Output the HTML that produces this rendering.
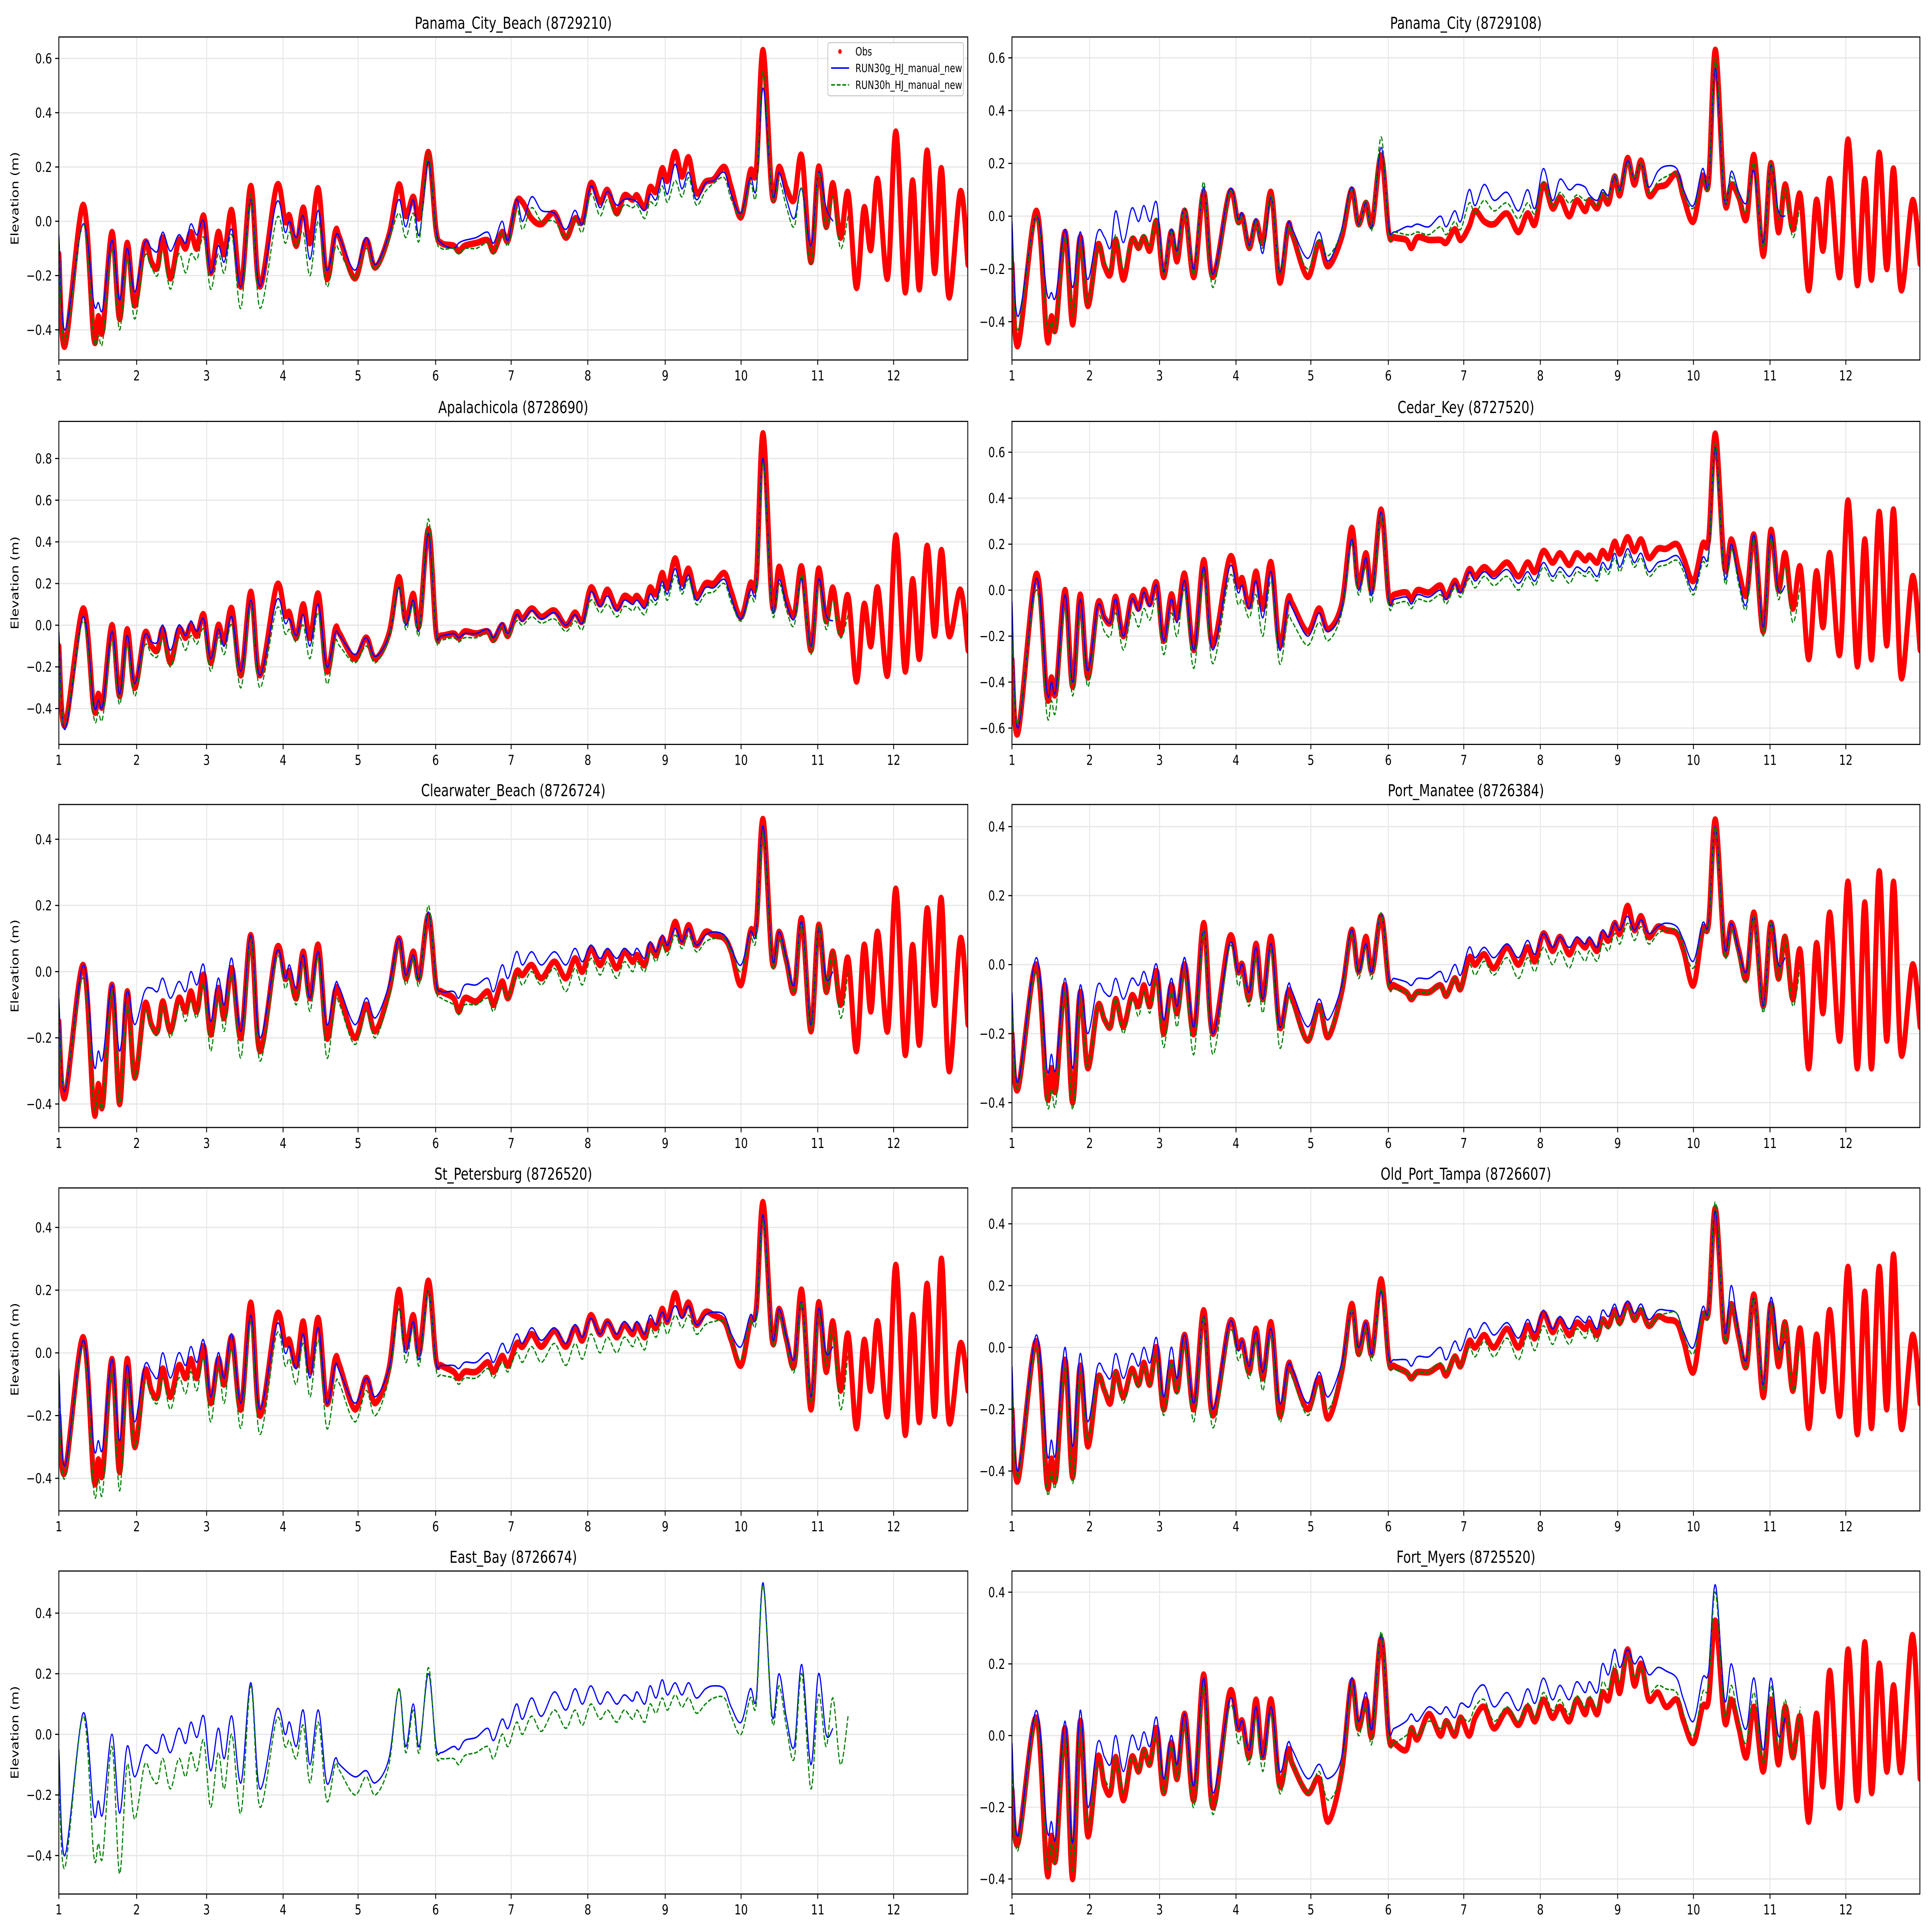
<!DOCTYPE html>
<html><head><meta charset="utf-8"><style>
html,body{margin:0;padding:0;background:#fff;overflow:hidden;width:100vw;height:100vh;}
svg{display:block;width:100vw;height:100vh;font-family:"DejaVu Sans","Liberation Sans",sans-serif;}
</style></head>
<body>
<svg id="fig" xmlns="http://www.w3.org/2000/svg" viewBox="0 0 7650 5850" preserveAspectRatio="none"></svg>
<script>
// Shared sample times (days) at the tidal peaks/troughs
const T = [1.0,1.08,1.32,1.46,1.52,1.58,1.70,1.80,1.90,
2.0,2.13,2.22,2.30,2.37,2.47,2.58,2.67,2.74,2.82,2.91,
3.0,3.10,3.18,3.28,3.40,3.53,3.65,3.87,3.98,
4.04,4.13,4.22,4.31,4.42,4.53,4.64,4.70,4.90,
5.05,5.17,5.35,5.48,5.57,5.67,5.75,5.87,5.97,
6.04,6.2,6.27,6.35,6.5,6.65,6.73,6.84,6.92,
7.03,7.11,7.23,7.36,7.53,7.68,7.8,7.9,
8.01,8.13,8.23,8.35,8.45,8.56,8.62,8.72,8.79,8.87,8.95,
9.02,9.12,9.21,9.30,9.4,9.52,9.63,9.77,9.86,9.99,
10.11,10.19,10.28,10.40,10.49,10.59,10.69,10.79,10.91,
11.01,11.11,11.2,11.30,11.40,11.51,11.61,11.70,11.79,11.92,
12.03,12.15,12.25,12.34,12.44,12.54,12.63,12.73,12.88,12.98];

const xTickValues = [1,2.025,2.947,3.955,4.943,5.965,6.96,7.97,8.99,9.99,11.0,12.0];
const xTickLabels = ["1","2","3","4","5","6","7","8","9","10","11","12"];

// Panel 1: Panama_City_Beach
const obs1 = [-0.12,-0.46,0.06,-0.43,-0.35,-0.40,-0.04,-0.36,-0.08,
-0.31,-0.08,-0.15,-0.17,-0.06,-0.21,-0.07,-0.10,-0.04,-0.10,0.02,
-0.19,-0.04,-0.12,0.04,-0.24,0.13,-0.24,0.13,0.0,
0.02,-0.09,0.05,-0.08,0.12,-0.21,-0.04,-0.06,-0.21,
-0.07,-0.17,-0.05,0.135,0.02,0.09,0.015,0.255,-0.03,
-0.08,-0.09,-0.11,-0.09,-0.08,-0.07,-0.11,-0.04,-0.07,
0.07,0.07,0.01,-0.01,0.03,-0.06,0.01,0.0,
0.14,0.07,0.115,0.03,0.095,0.08,0.095,0.05,0.125,0.11,0.195,
0.15,0.255,0.165,0.235,0.105,0.145,0.155,0.2,0.125,0.015,
0.185,0.19,0.63,0.095,0.2,0.12,0.08,0.24,-0.15,
0.2,-0.02,0.14,-0.06,0.105,-0.245,0.05,-0.105,0.155,-0.21,
0.33,-0.26,0.15,-0.25,0.26,-0.19,0.195,-0.28,0.11,-0.16];
const g1 = [-0.05,-0.40,-0.01,-0.30,-0.30,-0.32,-0.07,-0.29,-0.10,
-0.26,-0.08,-0.10,-0.11,-0.04,-0.11,-0.05,-0.08,-0.01,-0.05,0.0,
-0.19,-0.09,-0.15,-0.03,-0.24,0.08,-0.24,0.07,-0.04,
0.0,-0.06,0.02,-0.14,0.04,-0.18,-0.06,-0.06,-0.18,
-0.06,-0.16,-0.05,0.08,-0.02,0.08,-0.05,0.22,-0.03,
-0.08,-0.10,-0.08,-0.07,-0.06,-0.04,-0.08,0.0,-0.07,
0.08,0.0,0.09,0.04,0.03,-0.03,0.04,-0.01,
0.13,0.05,0.11,0.06,0.08,0.08,0.07,0.04,0.10,0.08,0.16,
0.10,0.21,0.12,0.18,0.08,0.14,0.15,0.18,0.10,0.03,
0.16,0.12,0.49,0.10,0.18,0.08,0.01,0.12,-0.09,
0.18,0.05,0.0];
const h1 = [-0.10,-0.45,-0.01,-0.43,-0.42,-0.44,-0.11,-0.40,-0.14,
-0.36,-0.13,-0.17,-0.20,-0.11,-0.25,-0.12,-0.19,-0.12,-0.14,-0.06,
-0.25,-0.12,-0.19,-0.05,-0.32,0.10,-0.32,0.01,-0.08,
-0.04,-0.09,-0.04,-0.20,0.0,-0.24,-0.10,-0.11,-0.21,
-0.10,-0.18,-0.07,0.03,-0.06,0.03,-0.07,0.25,-0.05,
-0.10,-0.10,-0.12,-0.10,-0.10,-0.08,-0.12,-0.04,-0.09,
0.05,-0.03,0.05,0.0,0.0,-0.06,0.01,-0.04,
0.10,0.02,0.08,0.02,0.06,0.05,0.06,0.01,0.07,0.06,0.13,
0.07,0.15,0.09,0.16,0.06,0.11,0.14,0.16,0.08,0.02,
0.14,0.10,0.55,0.09,0.15,0.05,-0.02,0.12,-0.16,
0.18,-0.03,0.09,-0.10,0.02];

// Panel 2: Panama_City
const obs2 = [-0.18,-0.49,0.02,-0.46,-0.38,-0.42,-0.06,-0.41,-0.08,
-0.34,-0.11,-0.19,-0.22,-0.09,-0.24,-0.09,-0.12,-0.08,-0.13,-0.02,
-0.23,-0.06,-0.17,0.02,-0.23,0.09,-0.23,0.09,-0.02,
0.0,-0.12,-0.02,-0.10,0.09,-0.25,-0.04,-0.07,-0.23,
-0.10,-0.19,-0.08,0.10,-0.03,0.05,-0.03,0.23,-0.06,
-0.08,-0.09,-0.12,-0.08,-0.09,-0.09,-0.10,-0.05,-0.09,
-0.04,0.02,-0.02,-0.03,0.01,-0.06,0.01,-0.03,
0.12,0.03,0.07,0.0,0.06,0.02,0.06,0.03,0.08,0.05,0.15,
0.08,0.22,0.12,0.21,0.08,0.11,0.12,0.16,0.07,-0.02,
0.15,0.13,0.63,0.06,0.12,0.07,-0.01,0.23,-0.15,
0.20,-0.06,0.12,-0.05,0.08,-0.28,0.06,-0.13,0.14,-0.23,
0.29,-0.26,0.14,-0.24,0.24,-0.20,0.18,-0.28,0.06,-0.18];
const g2 = [-0.02,-0.38,0.0,-0.29,-0.29,-0.30,-0.05,-0.27,-0.06,
-0.24,-0.06,-0.08,-0.12,0.02,-0.10,0.03,-0.02,0.04,-0.02,0.05,
-0.21,-0.05,-0.13,0.03,-0.20,0.11,-0.22,0.10,-0.01,
0.01,-0.11,-0.01,-0.14,0.07,-0.21,-0.03,-0.05,-0.16,
-0.06,-0.17,-0.05,0.11,-0.03,0.05,-0.04,0.26,-0.04,
-0.06,-0.04,-0.04,-0.03,-0.04,0.0,-0.04,0.02,-0.02,
0.10,0.04,0.12,0.06,0.09,0.02,0.10,0.03,
0.18,0.06,0.14,0.10,0.12,0.11,0.08,0.06,0.10,0.08,0.15,
0.10,0.21,0.14,0.20,0.11,0.17,0.19,0.18,0.10,0.04,
0.18,0.12,0.56,0.06,0.17,0.09,0.05,0.17,-0.10,
0.19,0.02,0.0];
const h2 = [-0.12,-0.43,0.0,-0.41,-0.40,-0.42,-0.08,-0.38,-0.10,
-0.33,-0.12,-0.17,-0.20,-0.07,-0.20,-0.08,-0.12,-0.07,-0.11,-0.01,
-0.22,-0.06,-0.15,0.03,-0.22,0.13,-0.27,0.09,-0.03,
0.0,-0.12,-0.02,-0.12,0.08,-0.22,-0.05,-0.07,-0.20,
-0.09,-0.15,-0.06,0.10,-0.04,0.06,-0.05,0.30,-0.07,
-0.06,-0.07,-0.07,-0.06,-0.07,-0.04,-0.07,-0.02,-0.05,
0.05,0.01,0.06,0.02,0.05,-0.01,0.05,0.01,
0.13,0.04,0.09,0.05,0.08,0.06,0.07,0.04,0.09,0.07,0.16,
0.09,0.20,0.14,0.20,0.09,0.13,0.15,0.16,0.08,0.03,
0.14,0.12,0.60,0.07,0.15,0.07,0.02,0.20,-0.12,
0.20,-0.01,0.11,-0.08,0.05];

// Panel 3: Apalachicola
const obs3 = [-0.10,-0.48,0.08,-0.40,-0.33,-0.38,0.0,-0.34,-0.02,
-0.30,-0.04,-0.10,-0.12,-0.02,-0.18,-0.02,-0.06,0.0,-0.05,0.05,
-0.18,0.0,-0.08,0.08,-0.24,0.16,-0.24,0.19,0.05,
0.06,-0.06,0.10,-0.06,0.15,-0.22,-0.02,-0.04,-0.16,
-0.06,-0.16,-0.04,0.23,0.02,0.15,0.0,0.46,-0.03,
-0.05,-0.04,-0.06,-0.03,-0.04,-0.03,-0.07,0.0,-0.05,
0.06,0.03,0.08,0.04,0.07,0.0,0.06,0.02,
0.18,0.10,0.17,0.08,0.14,0.12,0.14,0.10,0.18,0.15,0.25,
0.18,0.32,0.20,0.27,0.14,0.20,0.20,0.25,0.16,0.04,
0.20,0.22,0.92,0.10,0.28,0.12,0.05,0.28,-0.12,
0.27,0.02,0.18,-0.04,0.14,-0.27,0.10,-0.10,0.18,-0.24,
0.43,-0.22,0.22,-0.16,0.38,-0.05,0.36,-0.05,0.17,-0.12];
const g3 = [-0.03,-0.50,0.04,-0.38,-0.36,-0.38,-0.03,-0.33,-0.05,
-0.28,-0.05,-0.08,-0.08,0.0,-0.12,0.0,-0.05,0.02,-0.03,0.03,
-0.16,-0.02,-0.10,0.04,-0.22,0.12,-0.24,0.12,0.01,
0.03,-0.05,0.05,-0.10,0.10,-0.20,-0.04,-0.05,-0.14,
-0.06,-0.15,-0.05,0.18,0.0,0.12,-0.02,0.44,-0.03,
-0.05,-0.04,-0.06,-0.04,-0.04,-0.02,-0.06,0.01,-0.04,
0.05,0.02,0.07,0.03,0.06,0.0,0.05,0.01,
0.16,0.09,0.14,0.07,0.12,0.10,0.12,0.08,0.15,0.12,0.21,
0.15,0.27,0.17,0.24,0.12,0.18,0.18,0.22,0.13,0.03,
0.17,0.18,0.80,0.08,0.22,0.10,0.03,0.22,-0.10,
0.22,0.05,0.02];
const h3 = [-0.10,-0.48,0.02,-0.44,-0.42,-0.44,-0.08,-0.38,-0.10,
-0.34,-0.10,-0.14,-0.15,-0.06,-0.20,-0.06,-0.12,-0.05,-0.09,-0.02,
-0.22,-0.06,-0.14,0.0,-0.30,0.10,-0.30,0.08,-0.04,
-0.02,-0.08,0.0,-0.16,0.06,-0.28,-0.08,-0.10,-0.18,
-0.10,-0.18,-0.06,0.20,-0.02,0.10,-0.04,0.51,-0.05,
-0.07,-0.06,-0.08,-0.06,-0.06,-0.04,-0.08,-0.01,-0.06,
0.02,0.0,0.04,0.01,0.03,-0.03,0.02,-0.02,
0.12,0.06,0.10,0.04,0.09,0.07,0.09,0.05,0.12,0.10,0.19,
0.12,0.24,0.15,0.22,0.10,0.15,0.16,0.20,0.11,0.02,
0.14,0.16,0.78,0.06,0.20,0.07,0.0,0.24,-0.14,
0.20,-0.02,0.12,-0.06,0.05];

// Panel 4: Cedar_Key
const obs4 = [-0.30,-0.62,0.07,-0.46,-0.38,-0.44,0.0,-0.42,-0.02,
-0.38,-0.06,-0.12,-0.14,-0.03,-0.20,-0.03,-0.08,0.0,-0.06,0.03,
-0.22,-0.02,-0.12,0.07,-0.26,0.13,-0.24,0.14,0.02,
0.05,-0.07,0.08,-0.08,0.12,-0.24,-0.04,-0.06,-0.18,
-0.08,-0.17,-0.06,0.27,0.02,0.16,0.0,0.35,-0.03,
-0.02,-0.01,-0.04,0.0,-0.01,0.02,-0.03,0.04,0.0,
0.09,0.06,0.10,0.07,0.12,0.06,0.12,0.08,
0.17,0.12,0.16,0.11,0.16,0.13,0.15,0.12,0.17,0.14,0.21,
0.16,0.23,0.17,0.22,0.14,0.18,0.18,0.20,0.14,0.04,
0.20,0.22,0.68,0.10,0.22,0.08,-0.02,0.24,-0.18,
0.26,0.0,0.16,-0.08,0.10,-0.30,0.08,-0.16,0.16,-0.28,
0.39,-0.33,0.22,-0.30,0.34,-0.24,0.35,-0.38,0.06,-0.26];
const g4 = [-0.05,-0.60,0.05,-0.44,-0.40,-0.43,-0.02,-0.40,-0.04,
-0.35,-0.07,-0.12,-0.14,-0.04,-0.20,-0.04,-0.09,-0.01,-0.07,0.02,
-0.22,-0.04,-0.14,0.04,-0.26,0.10,-0.26,0.10,-0.01,
0.02,-0.08,0.04,-0.12,0.08,-0.26,-0.06,-0.08,-0.20,
-0.10,-0.18,-0.08,0.22,0.0,0.14,-0.02,0.34,-0.04,
-0.04,-0.03,-0.06,-0.02,-0.03,0.0,-0.04,0.03,-0.01,
0.08,0.04,0.08,0.05,0.09,0.03,0.08,0.04,
0.12,0.06,0.10,0.06,0.10,0.08,0.10,0.06,0.12,0.09,0.16,
0.10,0.18,0.12,0.16,0.08,0.12,0.13,0.15,0.10,0.0,
0.14,0.16,0.62,0.06,0.20,0.04,-0.06,0.24,-0.16,
0.24,0.0,0.02];
const h4 = [-0.18,-0.58,0.0,-0.54,-0.48,-0.52,-0.08,-0.46,-0.10,
-0.42,-0.12,-0.18,-0.20,-0.10,-0.26,-0.10,-0.16,-0.08,-0.13,-0.04,
-0.28,-0.10,-0.20,0.0,-0.34,0.08,-0.32,0.06,-0.06,
-0.04,-0.12,-0.02,-0.20,0.04,-0.32,-0.12,-0.14,-0.24,
-0.14,-0.22,-0.10,0.20,-0.02,0.10,-0.05,0.33,-0.06,
-0.06,-0.05,-0.08,-0.04,-0.05,-0.02,-0.06,0.01,-0.03,
0.05,0.01,0.06,0.02,0.06,0.0,0.06,0.02,
0.10,0.04,0.08,0.03,0.08,0.06,0.08,0.04,0.10,0.07,0.14,
0.08,0.16,0.10,0.14,0.06,0.10,0.11,0.13,0.08,-0.02,
0.12,0.14,0.64,0.04,0.18,0.02,-0.08,0.22,-0.20,
0.22,-0.04,0.10,-0.14,0.02];

// Panel 5: Clearwater_Beach
const obs5 = [-0.15,-0.38,0.02,-0.42,-0.34,-0.40,-0.04,-0.40,-0.06,
-0.32,-0.10,-0.16,-0.18,-0.09,-0.18,-0.08,-0.12,-0.06,-0.12,-0.01,
-0.19,-0.05,-0.14,0.01,-0.20,0.11,-0.24,0.07,-0.02,
0.0,-0.08,0.06,-0.08,0.08,-0.20,-0.06,-0.07,-0.20,
-0.10,-0.18,-0.06,0.10,-0.02,0.06,-0.02,0.17,-0.04,
-0.06,-0.08,-0.12,-0.08,-0.09,-0.06,-0.10,-0.03,-0.08,
0.0,-0.01,0.02,-0.02,0.03,-0.02,0.04,0.0,
0.07,0.02,0.06,0.01,0.06,0.03,0.05,0.02,0.08,0.05,0.10,
0.07,0.15,0.09,0.14,0.08,0.12,0.11,0.10,0.06,-0.04,
0.12,0.14,0.46,0.03,0.12,0.03,-0.06,0.16,-0.18,
0.14,-0.06,0.06,-0.10,0.04,-0.24,0.08,-0.12,0.12,-0.18,
0.25,-0.25,0.08,-0.22,0.19,-0.10,0.22,-0.30,0.10,-0.16];
const g5 = [-0.08,-0.36,0.02,-0.28,-0.24,-0.26,-0.04,-0.24,-0.06,
-0.16,-0.06,-0.05,-0.06,-0.02,-0.08,-0.03,-0.06,0.0,-0.04,0.02,
-0.15,-0.02,-0.10,0.04,-0.18,0.11,-0.20,0.06,-0.02,
0.02,-0.05,0.05,-0.08,0.06,-0.16,-0.04,-0.05,-0.16,
-0.08,-0.14,-0.04,0.10,-0.01,0.05,-0.02,0.18,-0.03,
-0.06,-0.06,-0.08,-0.04,-0.04,-0.02,-0.06,0.02,-0.02,
0.06,0.02,0.06,0.02,0.06,0.02,0.07,0.03,
0.08,0.04,0.07,0.04,0.07,0.05,0.07,0.04,0.09,0.06,0.11,
0.08,0.13,0.09,0.13,0.08,0.11,0.12,0.11,0.07,0.02,
0.12,0.12,0.44,0.04,0.12,0.04,-0.04,0.15,-0.16,
0.13,-0.02,0.0];
const h5 = [-0.14,-0.35,-0.02,-0.40,-0.36,-0.40,-0.06,-0.40,-0.10,
-0.32,-0.12,-0.17,-0.19,-0.10,-0.20,-0.10,-0.15,-0.09,-0.14,-0.04,
-0.24,-0.07,-0.18,-0.01,-0.26,0.10,-0.27,0.04,-0.05,
-0.02,-0.10,0.02,-0.12,0.04,-0.26,-0.09,-0.10,-0.22,
-0.12,-0.20,-0.08,0.08,-0.04,0.04,-0.04,0.20,-0.05,
-0.08,-0.10,-0.13,-0.10,-0.10,-0.08,-0.12,-0.05,-0.08,
-0.01,-0.04,0.0,-0.04,0.01,-0.06,0.01,-0.04,
0.04,-0.01,0.03,-0.02,0.03,0.0,0.03,0.0,0.06,0.03,0.08,
0.05,0.11,0.07,0.11,0.06,0.09,0.10,0.10,0.06,0.0,
0.10,0.10,0.42,0.02,0.10,0.02,-0.06,0.14,-0.18,
0.14,-0.06,0.06,-0.14,0.0];

// Panel 6: Port_Manatee
const obs6 = [-0.20,-0.36,0.0,-0.38,-0.30,-0.36,-0.06,-0.40,-0.08,
-0.30,-0.12,-0.16,-0.18,-0.10,-0.18,-0.09,-0.12,-0.06,-0.12,-0.02,
-0.20,-0.06,-0.14,0.0,-0.20,0.12,-0.20,0.08,-0.02,
0.0,-0.10,0.06,-0.10,0.08,-0.18,-0.08,-0.10,-0.22,
-0.12,-0.21,-0.08,0.10,-0.02,0.08,-0.02,0.14,-0.05,
-0.06,-0.08,-0.10,-0.08,-0.08,-0.06,-0.09,-0.04,-0.07,
0.02,0.0,0.03,-0.01,0.05,0.0,0.05,0.01,
0.09,0.04,0.08,0.03,0.07,0.05,0.07,0.04,0.09,0.07,0.12,
0.09,0.17,0.10,0.14,0.08,0.11,0.10,0.09,0.04,-0.06,
0.10,0.12,0.42,0.04,0.12,0.04,-0.04,0.15,-0.12,
0.12,-0.04,0.08,-0.10,0.04,-0.30,0.06,-0.14,0.15,-0.22,
0.24,-0.30,0.18,-0.30,0.27,-0.22,0.24,-0.26,0.0,-0.18];
const g6 = [-0.08,-0.34,0.02,-0.30,-0.26,-0.30,-0.04,-0.30,-0.06,
-0.20,-0.06,-0.08,-0.09,-0.04,-0.10,-0.04,-0.06,-0.02,-0.06,0.0,
-0.16,-0.04,-0.12,0.02,-0.18,0.10,-0.20,0.06,-0.02,
0.0,-0.08,0.05,-0.10,0.06,-0.18,-0.06,-0.08,-0.18,
-0.10,-0.16,-0.06,0.10,-0.02,0.06,-0.02,0.15,-0.04,
-0.04,-0.05,-0.06,-0.04,-0.04,-0.02,-0.05,0.0,-0.03,
0.05,0.02,0.05,0.02,0.06,0.02,0.07,0.03,
0.09,0.05,0.08,0.05,0.08,0.06,0.08,0.05,0.10,0.08,0.12,
0.10,0.14,0.10,0.13,0.09,0.11,0.12,0.11,0.07,0.01,
0.12,0.12,0.40,0.05,0.12,0.04,-0.02,0.14,-0.12,
0.12,0.0,0.02];
const h6 = [-0.12,-0.36,-0.02,-0.40,-0.36,-0.40,-0.08,-0.42,-0.10,
-0.30,-0.12,-0.16,-0.18,-0.10,-0.20,-0.10,-0.15,-0.08,-0.14,-0.04,
-0.24,-0.08,-0.18,-0.02,-0.26,0.10,-0.26,0.05,-0.06,
-0.03,-0.12,0.02,-0.14,0.04,-0.24,-0.10,-0.12,-0.22,
-0.12,-0.20,-0.08,0.09,-0.04,0.05,-0.04,0.15,-0.06,
-0.07,-0.08,-0.10,-0.08,-0.08,-0.06,-0.09,-0.04,-0.07,
0.0,-0.03,0.01,-0.03,0.02,-0.04,0.02,-0.02,
0.05,0.0,0.04,-0.01,0.04,0.01,0.04,0.01,0.06,0.04,0.09,
0.06,0.12,0.07,0.11,0.06,0.09,0.10,0.10,0.05,-0.01,
0.10,0.11,0.40,0.03,0.10,0.02,-0.05,0.14,-0.14,
0.12,-0.04,0.08,-0.12,0.0];

// Panel 7: St_Petersburg
const obs7 = [-0.20,-0.38,0.05,-0.40,-0.34,-0.38,-0.02,-0.38,-0.02,
-0.30,-0.06,-0.12,-0.14,-0.05,-0.14,-0.04,-0.08,-0.02,-0.08,0.02,
-0.16,-0.02,-0.10,0.05,-0.18,0.16,-0.20,0.12,0.03,
0.04,-0.04,0.10,-0.06,0.11,-0.16,-0.02,-0.04,-0.18,
-0.08,-0.16,-0.05,0.20,0.02,0.12,0.0,0.23,-0.02,
-0.04,-0.06,-0.08,-0.06,-0.06,-0.03,-0.06,-0.01,-0.04,
0.03,0.02,0.06,0.02,0.07,0.02,0.08,0.04,
0.12,0.06,0.10,0.05,0.09,0.06,0.09,0.05,0.10,0.08,0.14,
0.10,0.19,0.12,0.16,0.09,0.13,0.12,0.10,0.04,-0.04,
0.10,0.14,0.48,0.04,0.14,0.04,-0.04,0.20,-0.18,
0.16,-0.06,0.10,-0.12,0.06,-0.24,0.04,-0.12,0.10,-0.20,
0.28,-0.26,0.12,-0.22,0.22,-0.20,0.30,-0.22,0.03,-0.12];
const g7 = [-0.05,-0.36,0.04,-0.30,-0.28,-0.30,-0.02,-0.28,-0.04,
-0.22,-0.04,-0.06,-0.08,0.0,-0.08,0.0,-0.04,0.02,-0.03,0.04,
-0.14,0.0,-0.08,0.06,-0.16,0.12,-0.18,0.09,0.0,
0.02,-0.05,0.06,-0.08,0.08,-0.16,-0.04,-0.06,-0.16,
-0.08,-0.14,-0.05,0.14,0.0,0.10,-0.02,0.20,-0.03,
-0.04,-0.04,-0.05,-0.03,-0.03,0.0,-0.03,0.03,0.0,
0.06,0.03,0.08,0.04,0.08,0.03,0.09,0.05,
0.11,0.06,0.10,0.06,0.10,0.07,0.10,0.06,0.12,0.09,0.13,
0.10,0.15,0.11,0.15,0.09,0.12,0.13,0.12,0.06,0.02,
0.12,0.12,0.44,0.05,0.14,0.05,-0.02,0.16,-0.14,
0.14,0.0,0.02];
const h7 = [-0.16,-0.40,0.02,-0.44,-0.40,-0.44,-0.06,-0.44,-0.08,
-0.30,-0.10,-0.14,-0.16,-0.08,-0.18,-0.08,-0.13,-0.06,-0.12,-0.02,
-0.22,-0.05,-0.16,0.01,-0.24,0.10,-0.26,0.06,-0.04,
-0.02,-0.10,0.03,-0.14,0.04,-0.24,-0.10,-0.10,-0.22,
-0.12,-0.20,-0.08,0.14,-0.03,0.08,-0.04,0.20,-0.05,
-0.07,-0.08,-0.10,-0.08,-0.08,-0.05,-0.08,-0.03,-0.06,
0.0,-0.03,0.02,-0.03,0.03,-0.04,0.03,-0.02,
0.06,0.0,0.05,0.0,0.05,0.02,0.05,0.01,0.08,0.05,0.10,
0.06,0.12,0.08,0.12,0.06,0.09,0.10,0.10,0.04,-0.02,
0.10,0.10,0.42,0.03,0.12,0.03,-0.06,0.16,-0.16,
0.12,-0.04,0.08,-0.18,0.0];

// Panel 8: Old_Port_Tampa
const obs8 = [-0.20,-0.43,0.02,-0.44,-0.36,-0.42,-0.04,-0.42,-0.06,
-0.32,-0.10,-0.14,-0.18,-0.08,-0.16,-0.07,-0.12,-0.05,-0.12,0.0,
-0.20,-0.05,-0.14,0.04,-0.20,0.12,-0.22,0.08,0.0,
0.02,-0.08,0.06,-0.10,0.08,-0.22,-0.06,-0.08,-0.20,
-0.10,-0.23,-0.08,0.14,-0.02,0.08,-0.02,0.22,-0.04,
-0.06,-0.08,-0.10,-0.08,-0.08,-0.06,-0.09,-0.03,-0.06,
0.02,0.0,0.04,0.0,0.06,0.0,0.07,0.03,
0.11,0.05,0.09,0.04,0.08,0.06,0.08,0.04,0.09,0.07,0.12,
0.08,0.14,0.09,0.12,0.07,0.10,0.09,0.08,0.02,-0.08,
0.10,0.12,0.45,0.03,0.14,0.03,-0.06,0.17,-0.16,
0.14,-0.06,0.08,-0.14,0.06,-0.26,0.04,-0.14,0.12,-0.22,
0.26,-0.28,0.18,-0.26,0.26,-0.20,0.30,-0.26,0.04,-0.18];
const g8 = [-0.06,-0.40,0.04,-0.34,-0.30,-0.34,0.0,-0.32,-0.02,
-0.24,-0.06,-0.08,-0.10,-0.02,-0.10,-0.02,-0.06,0.0,-0.05,0.03,
-0.16,0.0,-0.10,0.04,-0.18,0.10,-0.20,0.08,-0.01,
0.02,-0.06,0.05,-0.08,0.06,-0.18,-0.06,-0.07,-0.18,
-0.08,-0.16,-0.05,0.12,0.0,0.08,-0.02,0.18,-0.03,
-0.04,-0.04,-0.06,-0.03,-0.03,0.0,-0.04,0.02,-0.01,
0.06,0.03,0.08,0.04,0.08,0.03,0.09,0.05,
0.12,0.06,0.10,0.06,0.10,0.08,0.10,0.06,0.12,0.10,0.14,
0.10,0.15,0.11,0.14,0.09,0.12,0.12,0.11,0.05,0.0,
0.13,0.12,0.44,0.05,0.20,0.04,-0.04,0.16,-0.12,
0.16,0.0,0.02];
const h8 = [-0.14,-0.42,0.0,-0.46,-0.40,-0.44,-0.06,-0.44,-0.08,
-0.30,-0.10,-0.14,-0.16,-0.08,-0.18,-0.08,-0.13,-0.06,-0.12,-0.02,
-0.22,-0.05,-0.15,0.02,-0.24,0.10,-0.26,0.05,-0.04,
-0.02,-0.10,0.02,-0.14,0.04,-0.24,-0.09,-0.10,-0.22,
-0.12,-0.20,-0.08,0.12,-0.03,0.06,-0.04,0.19,-0.05,
-0.07,-0.08,-0.10,-0.08,-0.08,-0.05,-0.08,-0.03,-0.06,
0.0,-0.03,0.02,-0.03,0.03,-0.04,0.04,-0.01,
0.07,0.01,0.06,0.01,0.06,0.03,0.06,0.02,0.09,0.06,0.11,
0.07,0.13,0.09,0.13,0.07,0.10,0.11,0.11,0.04,-0.02,
0.11,0.11,0.47,0.03,0.14,0.03,-0.06,0.16,-0.14,
0.14,-0.04,0.08,-0.14,0.02];

// Panel 9: East_Bay (no observations)
const obs9 = [];
const g9 = [-0.05,-0.40,0.07,-0.26,-0.22,-0.26,0.0,-0.26,-0.04,
-0.14,-0.04,-0.05,-0.06,0.0,-0.06,0.02,-0.03,0.04,-0.01,0.06,
-0.12,0.02,-0.08,0.06,-0.16,0.17,-0.18,0.08,0.0,
0.04,-0.04,0.08,-0.10,0.08,-0.16,-0.08,-0.10,-0.14,
-0.12,-0.16,-0.08,0.15,-0.04,0.10,-0.04,0.20,-0.04,
-0.06,-0.04,-0.05,-0.02,-0.01,0.02,-0.02,0.05,0.02,
0.10,0.05,0.12,0.06,0.14,0.08,0.15,0.10,
0.16,0.10,0.14,0.10,0.13,0.11,0.14,0.10,0.16,0.12,0.18,
0.13,0.17,0.13,0.17,0.12,0.15,0.16,0.15,0.09,0.04,
0.15,0.12,0.50,0.06,0.20,0.05,-0.04,0.23,-0.10,
0.20,0.0,0.02];
const h9 = [-0.14,-0.44,0.06,-0.40,-0.36,-0.40,-0.04,-0.46,-0.10,
-0.28,-0.10,-0.14,-0.16,-0.08,-0.18,-0.08,-0.14,-0.06,-0.12,-0.02,
-0.24,-0.06,-0.18,0.0,-0.26,0.16,-0.24,0.05,-0.04,
-0.02,-0.08,0.03,-0.16,0.04,-0.22,-0.10,-0.12,-0.20,
-0.14,-0.20,-0.10,0.15,-0.06,0.08,-0.06,0.22,-0.06,
-0.08,-0.08,-0.10,-0.07,-0.06,-0.04,-0.08,0.0,-0.04,
0.04,0.0,0.06,0.01,0.08,0.02,0.08,0.03,
0.10,0.05,0.08,0.04,0.08,0.05,0.08,0.04,0.10,0.07,0.12,
0.08,0.13,0.09,0.12,0.07,0.10,0.12,0.12,0.06,0.0,
0.12,0.10,0.49,0.04,0.16,0.02,-0.08,0.20,-0.18,
0.13,-0.04,0.12,-0.10,0.06];

// Panel 10: Fort_Myers
const obs10 = [-0.15,-0.30,0.05,-0.38,-0.28,-0.34,0.02,-0.40,0.04,
-0.28,-0.06,-0.14,-0.16,-0.06,-0.18,-0.06,-0.10,-0.04,-0.08,0.02,
-0.16,-0.02,-0.12,0.06,-0.18,0.17,-0.20,0.12,0.02,
0.04,-0.06,0.10,-0.06,0.10,-0.14,-0.04,-0.08,-0.16,
-0.12,-0.24,-0.10,0.15,0.02,0.10,0.0,0.27,0.0,
-0.02,-0.04,0.02,-0.01,0.06,0.0,0.04,0.0,0.05,
0.0,0.05,0.08,0.02,0.07,0.03,0.08,0.04,
0.10,0.05,0.08,0.04,0.10,0.06,0.10,0.06,0.12,0.10,0.18,
0.12,0.24,0.14,0.20,0.10,0.12,0.08,0.10,0.04,-0.02,
0.08,0.10,0.32,0.04,0.10,0.02,-0.06,0.08,-0.10,
0.10,-0.08,0.08,-0.06,0.05,-0.24,0.06,-0.14,0.18,-0.20,
0.24,-0.18,0.26,-0.16,0.20,-0.10,0.14,-0.10,0.28,-0.12];
const g10 = [-0.02,-0.28,0.07,-0.26,-0.24,-0.28,0.04,-0.30,0.07,
-0.20,-0.02,-0.06,-0.08,0.0,-0.10,0.0,-0.04,0.01,-0.03,0.05,
-0.12,0.0,-0.08,0.06,-0.14,0.16,-0.16,0.10,0.02,
0.04,-0.04,0.08,-0.06,0.08,-0.10,-0.02,-0.04,-0.12,
-0.08,-0.12,-0.06,0.16,0.04,0.12,0.02,0.28,0.02,
0.02,0.04,0.06,0.04,0.08,0.06,0.08,0.05,0.09,
0.08,0.12,0.14,0.08,0.12,0.07,0.13,0.09,
0.16,0.10,0.14,0.10,0.15,0.12,0.15,0.12,0.20,0.17,0.24,
0.19,0.24,0.20,0.22,0.17,0.19,0.18,0.16,0.10,0.04,
0.16,0.18,0.42,0.10,0.20,0.08,0.02,0.16,-0.04,
0.16,0.0,0.05];
const h10 = [-0.10,-0.32,0.05,-0.36,-0.30,-0.34,0.0,-0.38,0.02,
-0.26,-0.08,-0.12,-0.14,-0.06,-0.16,-0.06,-0.10,-0.04,-0.08,0.0,
-0.16,-0.03,-0.12,0.03,-0.20,0.14,-0.22,0.08,-0.02,
0.0,-0.08,0.05,-0.10,0.06,-0.16,-0.06,-0.08,-0.16,
-0.10,-0.18,-0.10,0.14,0.0,0.08,-0.02,0.29,-0.01,
-0.02,0.0,0.02,0.0,0.04,0.02,0.04,0.01,0.05,
0.04,0.08,0.10,0.04,0.08,0.04,0.09,0.05,
0.12,0.07,0.10,0.06,0.11,0.08,0.11,0.08,0.15,0.13,0.20,
0.15,0.22,0.16,0.19,0.12,0.14,0.13,0.12,0.06,0.0,
0.12,0.14,0.40,0.06,0.14,0.04,-0.02,0.12,-0.08,
0.14,-0.04,0.10,-0.06,0.08];

const stationTitles = ["Panama_City_Beach (8729210)","Panama_City (8729108)","Apalachicola (8728690)","Cedar_Key (8727520)","Clearwater_Beach (8726724)","Port_Manatee (8726384)","St_Petersburg (8726520)","Old_Port_Tampa (8726607)","East_Bay (8726674)","Fort_Myers (8725520)"];
const yTickSets = [[-0.4,-0.2,0,0.2,0.4,0.6],[-0.4,-0.2,0,0.2,0.4,0.6],[-0.4,-0.2,0,0.2,0.4,0.6,0.8],[-0.6,-0.4,-0.2,0,0.2,0.4,0.6],[-0.4,-0.2,0,0.2,0.4],[-0.4,-0.2,0,0.2,0.4],[-0.4,-0.2,0,0.2,0.4],[-0.4,-0.2,0,0.2,0.4],[-0.4,-0.2,0,0.2,0.4],[-0.4,-0.2,0,0.2,0.4]];
const yMins = [-0.511,-0.545,-0.572,-0.671,-0.471,-0.472,-0.504,-0.529,-0.527,-0.442];
const yMaxs = [0.679,0.679,0.978,0.734,0.505,0.464,0.526,0.516,0.539,0.459];
const obsSeries = [obs1,obs2,obs3,obs4,obs5,obs6,obs7,obs8,obs9,obs10];
const gSeries = [g1,g2,g3,g4,g5,g6,g7,g8,g9,g10];
const hSeries = [h1,h2,h3,h4,h5,h6,h7,h8,h9,h10];

const NS = "http://www.w3.org/2000/svg";
const svg = document.getElementById("fig");
const X_MIN = 1, X_MAX = 12.977;
const colLeft = [233, 4007], colWidth = [3599, 3595];
const rowTop = [112, 1276, 2436, 3597, 4757], panelH = 978;

function mk(tag, attrs, parent){
  const e = document.createElementNS(NS, tag);
  for (const k in attrs) e.setAttribute(k, attrs[k]);
  (parent || svg).appendChild(e);
  return e;
}
function fmt(v){ const s = v.toFixed(1); return s.replace("-", "\u2212"); }
function smoothPath(pts){
  if (pts.length < 2) return "";
  let d = "M" + pts[0][0].toFixed(1) + "," + pts[0][1].toFixed(1);
  for (let i = 0; i < pts.length - 1; i++){
    const p0 = pts[Math.max(0, i-1)], p1 = pts[i], p2 = pts[i+1], p3 = pts[Math.min(pts.length-1, i+2)];
    const c1x = p1[0] + (p2[0]-p0[0])/6, c1y = p1[1] + (p2[1]-p0[1])/6;
    const c2x = p2[0] - (p3[0]-p1[0])/6, c2y = p2[1] - (p3[1]-p1[1])/6;
    d += "C" + c1x.toFixed(1) + "," + c1y.toFixed(1) + " " + c2x.toFixed(1) + "," + c2y.toFixed(1) + " " + p2[0].toFixed(1) + "," + p2[1].toFixed(1);
  }
  return d;
}

const defs = mk("defs", {});

for (let p = 0; p < 10; p++){
  const col = p % 2, row = Math.floor(p / 2);
  const L = colLeft[col], W = colWidth[col], Tp = rowTop[row], H = panelH;
  const yMin = yMins[p], yMax = yMaxs[p];
  const xs = d => L + (d - X_MIN) / (X_MAX - X_MIN) * W;
  const ys = v => Tp + (yMax - v) / (yMax - yMin) * H;

  const g = mk("g", {});
  
  

  const cp = mk("clipPath", {id: "clip" + p}, defs);
  mk("rect", {x: L, y: Tp, width: W, height: H}, cp);

  const grid = mk("g", {stroke: "#e8e8e8", "stroke-width": 4}, g);
  
  
  xTickValues.forEach(v => { mk("line", {x1: xs(v), x2: xs(v), y1: Tp, y2: Tp + H}, grid); });
  yTickSets[p].forEach(v => { mk("line", {x1: L, x2: L + W, y1: ys(v), y2: ys(v)}, grid); });

  const plot = mk("g", {"clip-path": "url(#clip" + p + ")", fill: "none"}, g);
  const obs = obsSeries[p];
  if (obs.length){
    const o = mk("path", {d: smoothPath(obs.map((v,i)=>[xs(T[i]), ys(v)])), stroke: "#ff0000", "stroke-width": 20, "stroke-linecap": "round", "stroke-linejoin": "round"}, plot);
    
    
  }
  const gs = gSeries[p];
  const bl = mk("path", {d: smoothPath(gs.map((v,i)=>[xs(T[i]), ys(v)])), stroke: "#0000ff", "stroke-width": 4.5, "stroke-linejoin": "round"}, plot);
  
  
  const hs = hSeries[p];
  const gr = mk("path", {d: smoothPath(hs.map((v,i)=>[xs(T[i]), ys(v)])), stroke: "#008000", "stroke-width": 4.5, "stroke-dasharray": "15.4 6.7", "stroke-linejoin": "round"}, plot);
  
  

  const fr = mk("rect", {x: L, y: Tp, width: W, height: H, fill: "none", stroke: "#000", "stroke-width": 3.4}, g);
  
  

  yTickSets[p].forEach(v => {
    const y = ys(v);
    mk("line", {x1: L - 14.6, x2: L, y1: y, y2: y, stroke: "#000", "stroke-width": 3.4}, g);
    const t = mk("text", {x: L - 27, y: y + 15, "text-anchor": "end", "font-size": 42, fill: "#000"}, g);
    t.textContent = fmt(v);
    
    
  });
  xTickValues.forEach((v, i) => {
    const x = xs(v);
    mk("line", {x1: x, x2: x, y1: Tp + H, y2: Tp + H + 14.6, stroke: "#000", "stroke-width": 3.4}, g);
    const t = mk("text", {x: x, y: Tp + H + 62, "text-anchor": "middle", "font-size": 42, fill: "#000"}, g);
    t.textContent = xTickLabels[i];
    
    
  });
  if (col === 0){
    const yl = mk("text", {x: 0, y: 0, "text-anchor": "middle", "font-size": 42, fill: "#000", transform: "translate(" + (L - 160) + "," + (Tp + H/2) + ") rotate(-90)"}, g);
    yl.textContent = "Elevation (m)";
    
    
  }
  const tt = mk("text", {x: L + W/2, y: Tp - 25, "text-anchor": "middle", "font-size": 50, fill: "#000"}, g);
  tt.textContent = stationTitles[p];
  
  
}

// Legend (first panel)
const lg = mk("g", {});


mk("rect", {x: 3278, y: 129, width: 537, height: 161, rx: 8, fill: "#fff", "fill-opacity": 0.85, stroke: "#cccccc", "stroke-width": 3.4}, lg);
const ld = mk("circle", {cx: 3326, cy: 156, r: 7, fill: "#ff0000"}, lg);


const lb = mk("line", {x1: 3291, x2: 3362, y1: 206, y2: 206, stroke: "#0000ff", "stroke-width": 4.5}, lg);


const lgr = mk("line", {x1: 3291, x2: 3362, y1: 257, y2: 257, stroke: "#008000", "stroke-width": 4.5, "stroke-dasharray": "15.4 6.7"}, lg);


const legendLabels = ["Obs", "RUN30g_HJ_manual_new", "RUN30h_HJ_manual_new"];
const legendY = [168, 218, 269];
legendLabels.forEach((s, i) => {
  const t = mk("text", {x: 3387, y: legendY[i], "font-size": 34, fill: "#000"}, lg);
  t.textContent = s;
  
  
});
</script>
</body></html>
